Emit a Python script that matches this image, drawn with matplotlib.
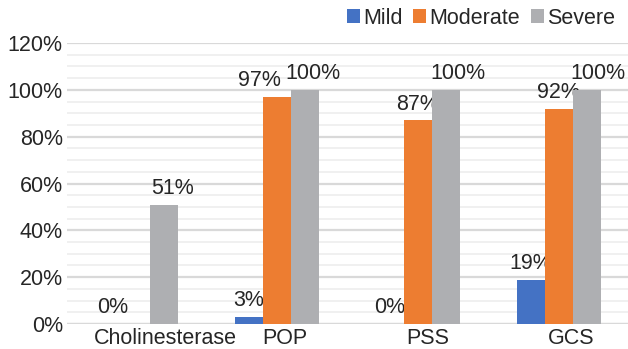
import numpy as np
import matplotlib.pyplot as plt
import matplotlib.transforms as mtransforms
from matplotlib.ticker import MultipleLocator, PercentFormatter

plt.rcParams['font.family'] = ['Liberation Sans', 'DejaVu Sans']

blue = '#4472C4'
orange = '#ED7D31'
gray = '#AEAFB2'

categories = ["Cholinesterase", "POP", "PSS", "GCS"]
mild = [0, 3, 0, 19]
moderate = [np.nan, 97, 87, 92]
severe = [51, 100, 100, 100]

series = [("Mild", mild, blue), ("Moderate", moderate, orange), ("Severe", severe, gray)]

# small pixel nudges seen in the reference labels
label_dx = {("Mild", 0): 5, ("Moderate", 1): -18, ("Severe", 0): 8, ("Severe", 1): 8,
            ("Severe", 2): 12, ("Severe", 3): 11}
tick_dx = [29, 8, 10, 12]
fs = 15.5

if __name__ == "__main__":

    fig = plt.figure(figsize=(6.28, 3.49), dpi=100)
    ax = fig.add_axes([0.1067, 0.0716, 0.8933, 0.8052])

    x = np.arange(len(categories))
    w = 0.2
    for i, (name, vals, col) in enumerate(series):
        vals = np.array(vals, dtype=float)
        pos = x + (i - 1) * w
        ax.bar(pos, np.nan_to_num(vals), width=w, color=col, label=name, zorder=3)
        for j, v in enumerate(vals):
            if np.isnan(v):
                continue
            dx = label_dx.get((name, j), 0)
            off = mtransforms.offset_copy(ax.transData, fig=fig, x=dx * 0.72, y=4, units='points')
            ax.text(pos[j], v, f"{v:.0f}%", ha='center', va='bottom', fontsize=fs,
                    color='#262626', transform=off)

    ax.set_xlim(-0.49, 3.49)
    ax.set_ylim(0, 120)
    ax.yaxis.set_major_locator(MultipleLocator(20))
    ax.yaxis.set_minor_locator(MultipleLocator(5))
    ax.yaxis.set_major_formatter(PercentFormatter(decimals=0))
    ax.grid(axis='y', which='major', color='#d9d9d9', lw=1.6, zorder=0)
    ax.grid(axis='y', which='minor', color='#eeeeee', lw=1.2, zorder=0)
    ax.axhline(0, color='#d9d9d9', lw=1.6, zorder=1)
    for s in ax.spines.values():
        s.set_visible(False)
    ax.tick_params(axis='both', which='both', length=0, labelsize=fs, labelcolor='#262626')
    ax.tick_params(axis='y', pad=3)
    ax.tick_params(axis='x', pad=3)

    ax.set_xticks(x)
    ax.set_xticklabels(categories)
    for lab, d in zip(ax.get_xticklabels(), tick_dx):
        lab.set_transform(lab.get_transform() + mtransforms.ScaledTranslation(d / 100, 0, fig.dpi_scale_trans))

    fig.legend(loc='upper right', bbox_to_anchor=(1.0, 1.015), ncol=3, frameon=False,
               fontsize=fs, handlelength=0.6, handleheight=0.6, handletextpad=0.15,
               columnspacing=0.5, labelcolor='#262626', borderaxespad=0.2)

    fig.savefig("out.png", dpi=100)
